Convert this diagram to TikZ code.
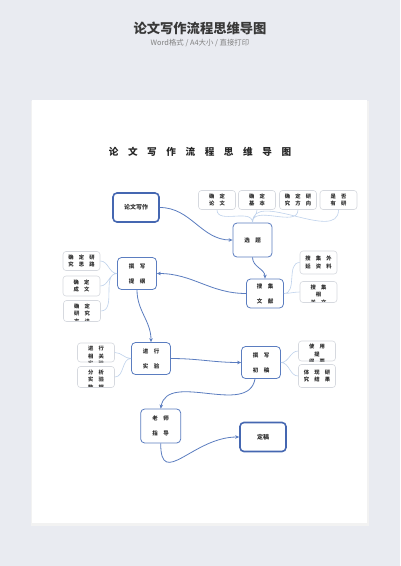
\documentclass[tikz,border=0pt]{standalone}
\usepackage{fontspec}
\setmainfont{Noto Sans CJK SC}
\usetikzlibrary{arrows.meta,positioning}

\definecolor{pagebg}{HTML}{E9EBF1}
\definecolor{flowblue}{HTML}{5B7DC0}
\definecolor{keyblue}{HTML}{4567B1}
\definecolor{twigblue}{HTML}{BFD2EC}
\definecolor{leafline}{HTML}{D6D9DF}
\definecolor{inkgray}{HTML}{2E2E2E}

\newcommand\leaffont{\fontsize{5.3pt}{7.5pt}\selectfont\bfseries}

\tikzset{
  stagebox/.style={draw=flowblue, line width=0.8pt, rounded corners=4pt, fill=white,
    minimum width=39pt, minimum height=32pt, align=center, text=inkgray,
    font=\fontsize{5.5pt}{15pt}\selectfont\bfseries},
  keybox/.style={draw=keyblue, line width=1.6pt, rounded corners=4pt, fill=white,
    minimum width=46pt, minimum height=29pt, text=inkgray,
    font=\fontsize{6pt}{7pt}\selectfont\bfseries},
  leafbox/.style={draw=leafline, line width=0.6pt, rounded corners=3pt, fill=white,
    minimum width=37pt, minimum height=20pt, align=center, text=inkgray,
    font=\leaffont, inner sep=1pt},
  cutleaf/.style={leafbox, path picture={
    \node[anchor=north, align=center, text=inkgray, font=\leaffont, draw=none, fill=none,
      inner sep=0pt, minimum width=0pt, minimum height=0pt, rounded corners=0pt]
      at ([yshift=-3pt]path picture bounding box.north) {#1};}},
  twig/.style={draw=twigblue, line width=0.6pt},
  flow/.style={draw=flowblue, line width=0.8pt, -{Stealth[length=4pt,width=3.5pt]}}
}

\begin{document}
\begin{tikzpicture}[x=1pt, y=-1pt]
  \useasboundingbox (0,0) rectangle (400,566);
  \fill[pagebg] (0,0) rectangle (400,566);
  \fill[black!5] (30.5,101) rectangle (368.5,525.5);
  \fill[white] (32,100) rectangle (367,523);

  % headings
  \node[font=\fontsize{13.3pt}{15pt}\selectfont\bfseries, text=black!78] (head) at (200,28.5) {论文写作流程思维导图};
  \node[font=\fontsize{7.4pt}{8pt}\selectfont, text=black!50] (sub) at (200,43) {Word格式 / A4大小 / 直接打印};
  \node[font=\fontsize{9.6pt}{11pt}\selectfont\bfseries, text=black!85] (title) at (200,152) {论　文　写　作　流　程　思　维　导　图};

  % main stages
  \node[keybox] (lw) at (136,207.5) {论文写作};
  \node[stagebox, minimum height=34pt] (xt) at (252.5,240) {选　题};
  \node[stagebox, minimum width=37pt, minimum height=29pt] (sj) at (265,293.5) {搜　集\\文　献};
  \node[stagebox] (zx) at (137,273.5) {撰　写\\提　纲};
  \node[stagebox] (sy) at (151,358.5) {进　行\\实　验};
  \node[stagebox] (cg) at (261,362.5) {撰　写\\初　稿};
  \node[stagebox, minimum width=40pt, minimum height=34pt] (ls) at (160.7,426) {老　师\\指　导};
  \node[keybox] (dg) at (263,437) {定稿};

  % leaves
  \node[leafbox, minimum height=19pt] (xt1) at (217,200) {确　定\\论　文};
  \node[leafbox, minimum height=19pt] (xt2) at (257,200) {确　定\\基　本};
  \node[leafbox, minimum height=19pt] (xt3) at (298,200) {确　定　研\\究　方　向};
  \node[leafbox, minimum height=19pt] (xt4) at (338.5,200) {是　否\\有　研};

  \node[leafbox, minimum height=23pt] (sj1) at (318.5,262.5) {搜　集　外\\延　资　料};
  \node[cutleaf={搜　集\\相\\关　文}, minimum height=21pt] (sj2) at (318.5,292) {};

  \node[leafbox, minimum height=19pt] (zx1) at (81.5,261) {确　定　研\\究　思　路};
  \node[leafbox] (zx2) at (81.5,286) {确　定\\成　文};
  \node[cutleaf={确　定\\研　究\\方　法}, minimum height=21pt] (zx3) at (82,311) {};

  \node[cutleaf={进　行\\相　关\\实　验}, minimum height=19pt] (sy1) at (96,352.5) {};
  \node[cutleaf={分　析\\实　验\\数　据}, minimum height=21pt] (sy2) at (96,377) {};

  \node[cutleaf={使　用\\提\\纲　要}, minimum height=20pt] (cg1) at (317,351) {};
  \node[leafbox, minimum height=23pt] (cg2) at (317,376) {体　现　研\\究　结　果};

  % twigs
  \draw[twig] (xt.north) to[out=90, in=-90] (xt1.south)
              (xt.north) to[out=90, in=-90] (xt2.south)
              (xt.north) to[out=90, in=-90] (xt3.south)
              (xt.north) to[out=90, in=-90] (xt4.south);
  \draw[twig] (sj.east) to[out=0, in=180] (sj1.west)
              (sj.east) to[out=0, in=180] (sj2.west);
  \draw[twig] (zx.west) to[out=180, in=0] (zx1.east)
              (zx.west) to[out=180, in=0] (zx2.east)
              (zx.west) to[out=180, in=0] (zx3.east);
  \draw[twig] (sy.west) to[out=180, in=0] (sy1.east)
              (sy.west) to[out=180, in=0] (sy2.east);
  \draw[twig] (cg.east) to[out=0, in=180] (cg1.west)
              (cg.east) to[out=0, in=180] (cg2.west);

  % flow
  \draw[flow] (lw.east) to[out=0, in=180] (xt.west);
  \draw[flow] (xt.south) to[out=-90, in=90] (sj.north);
  \draw[flow] (sj.west) to[out=180, in=0] (zx.east);
  \draw[flow] (zx.south) to[out=-90, in=90] (sy.north);
  \draw[flow] (sy.east) to[out=0, in=180] (cg.west);
  \draw[flow] ([xshift=-6pt]cg.south) to[out=-100, in=80] (ls.north);
  \draw[flow] (ls.south) to[out=-90, in=180, looseness=1.5] (dg.west);
\end{tikzpicture}
\end{document}
